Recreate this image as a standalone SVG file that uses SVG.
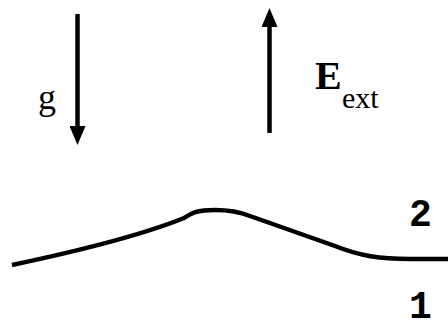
<svg xmlns="http://www.w3.org/2000/svg" width="448" height="325" viewBox="0 0 448 325">
<style>
.ln{stroke:#000;stroke-width:4.5;fill:none}
.serif{font-family:"Liberation Serif","Times New Roman",serif;fill:#000}
.mono{font-family:"Liberation Mono","Courier New",monospace;font-weight:bold;fill:#000;font-size:38px}
</style>
<defs>
<marker id="ah" viewBox="0 0 19 16" refX="0" refY="8" markerWidth="19" markerHeight="16" markerUnits="userSpaceOnUse" orient="auto">
<path d="M0,0 L19,8 L0,16 Z" fill="#000"/>
</marker>
</defs>
<rect width="448" height="325" fill="#fff"/>
<g id="connectors">
<line id="g-arrow" class="ln" x1="77.5" y1="14" x2="77.5" y2="126" marker-end="url(#ah)"/>
<line id="e-arrow" class="ln" x1="269.5" y1="133" x2="269.5" y2="27" marker-end="url(#ah)"/>
</g>
<g id="label-g"><text class="serif" x="38" y="109" font-size="36">g</text></g>
<g id="label-E"><text class="serif" x="315" y="89" font-size="40" font-weight="bold">E</text><text class="serif" x="342" y="108" font-size="30">ext</text></g>
<g id="interface">
<path class="ln" d="M12,265 Q130,240 184,218 C191,213 197,210 215,210 C230,210 240,212 250,216 L335,246 C360,256 380,259 410,259 L448,259"/>
</g>
<g id="label-2"><text class="mono" x="409" y="226">2</text></g>
<g id="label-1"><text class="mono" x="409" y="318">1</text></g>
</svg>
